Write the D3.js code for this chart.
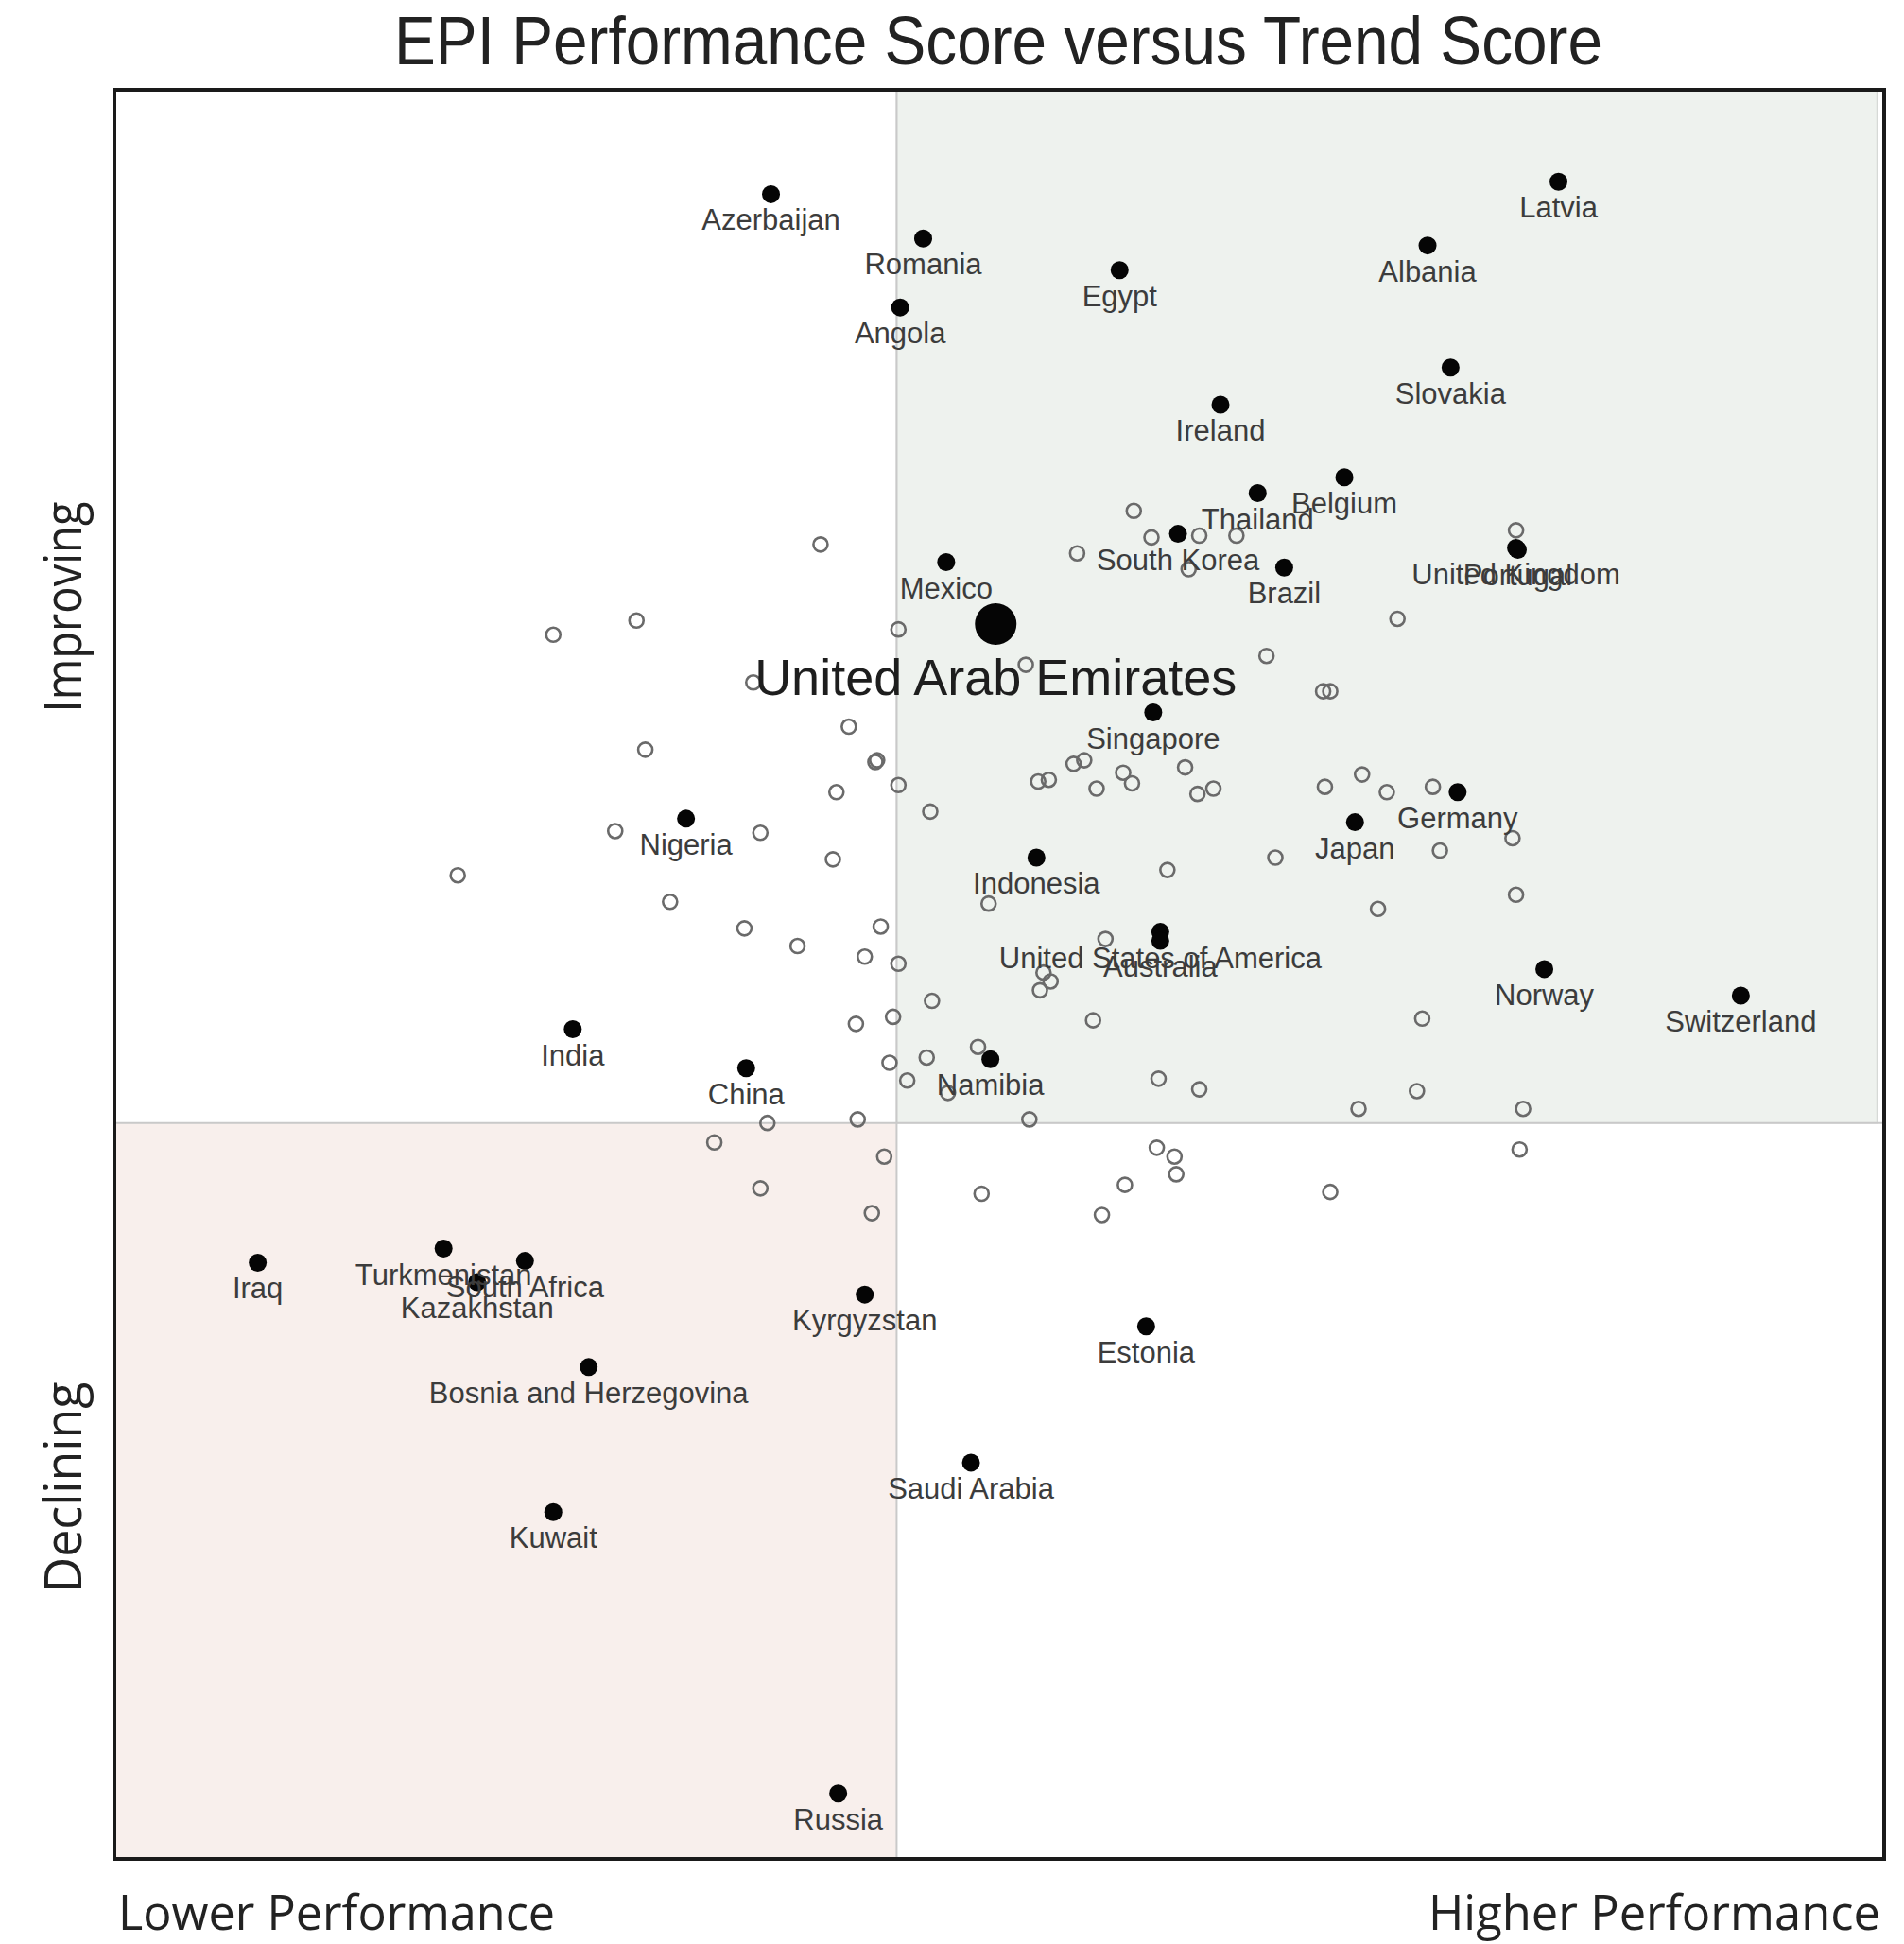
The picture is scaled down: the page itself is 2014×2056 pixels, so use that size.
<!DOCTYPE html>
<html>
<head>
<meta charset="utf-8">
<script src="https://cdn.jsdelivr.net/npm/d3@7"></script>
<style>
  body { margin: 0; background: #fff; }
  text { font-family: "Liberation Sans", Arial, sans-serif; }
</style>
</head>
<body>
<svg id="chart" width="2014" height="2056"></svg>
<script>
// labelled countries (performance score, trend score), both on a 0-100 scale
var countries = ["Azerbaijan", "Romania", "Angola", "Egypt", "Latvia", "Albania", "Slovakia", "Ireland",
  "Belgium", "Thailand", "South Korea", "Brazil", "United Kingdom", "Portugal", "Mexico",
  "United Arab Emirates", "Singapore", "Nigeria", "Germany", "Japan", "Indonesia",
  "United States of America", "Australia", "Norway", "Switzerland", "India", "China", "Namibia",
  "Iraq", "Turkmenistan", "Kazakhstan", "South Africa", "Bosnia and Herzegovina", "Kuwait",
  "Kyrgyzstan", "Russia", "Saudi Arabia", "Estonia"];
var perfScore = [37.1, 45.7, 44.4, 56.8, 81.6, 74.2, 75.5, 62.5,
  69.5, 64.6, 60.1, 66.1, 79.2, 79.3, 47.0,
  49.8, 58.7, 32.3, 75.9, 70.1, 52.1,
  59.1, 59.1, 80.8, 91.9, 25.9, 35.7, 49.5,
  8.1, 18.6, 20.5, 23.2, 26.8, 24.8,
  42.4, 40.9, 48.4, 58.3];
var trendScore = [94.1, 91.6, 87.7, 89.8, 94.8, 91.2, 84.3, 82.2,
  78.1, 77.2, 74.9, 73.0, 74.1, 74.0, 73.3,
  69.8, 64.8, 58.8, 60.3, 58.6, 56.6,
  52.4, 51.9, 50.3, 48.8, 46.9, 44.7, 45.2,
  33.7, 34.5, 32.6, 33.8, 27.8, 19.6,
  31.9, 3.7, 22.4, 30.1];

// unlabelled countries
var otherPerf = [39.9, 44.3, 54.4, 57.6, 58.6, 61.3, 63.4, 60.7, 65.1, 51.5,
  36.1, 68.3, 68.7, 41.5, 43.0, 43.1, 44.3, 40.8, 46.1, 52.2,
  52.8, 54.2, 54.8, 55.5, 57.0, 57.5, 60.5, 61.2, 62.1, 36.5,
  40.6, 31.4, 35.6, 38.6, 43.3, 42.4, 44.3, 59.5, 65.6, 49.4,
  56.0, 52.5, 52.9, 52.3, 46.2, 55.3, 41.9, 44.0, 48.8, 43.8,
  45.9, 44.8, 47.1, 59.0, 61.3, 36.9, 42.0, 51.7, 29.5, 24.8,
  30.0, 28.3, 19.4, 79.2, 72.5, 68.4, 70.5, 71.9, 74.5, 79.0,
  74.9, 79.2, 71.4, 73.9, 73.6, 70.3, 79.6, 33.9, 43.5, 36.5,
  42.8, 49.0, 58.9, 59.9, 60.0, 57.1, 55.8, 68.7, 79.4];
var otherTrend = [74.3, 69.5, 73.8, 76.2, 74.7, 74.8, 74.8, 72.9, 68.0, 67.5,
  66.5, 66.0, 66.0, 64.0, 62.0, 62.1, 60.7, 60.3, 59.2, 60.9,
  61.0, 61.9, 62.1, 60.5, 61.4, 60.8, 61.7, 60.2, 60.5, 58.0,
  56.5, 54.1, 52.6, 51.6, 52.7, 51.0, 50.6, 55.9, 56.6, 54.0,
  52.0, 50.1, 49.6, 49.1, 48.5, 47.4, 47.2, 47.6, 45.9, 45.0,
  45.3, 44.0, 43.3, 44.1, 43.5, 41.6, 41.8, 41.8, 70.0, 69.2,
  62.7, 58.1, 55.6, 75.1, 70.1, 60.6, 61.3, 60.3, 60.6, 57.7,
  57.0, 54.5, 53.7, 47.5, 43.4, 42.4, 42.4, 40.5, 39.7, 37.9,
  36.5, 37.6, 40.2, 39.7, 38.7, 38.1, 36.4, 37.7, 40.1];

var highlight = "United Arab Emirates";
var splitPerf = 44.2, splitTrend = 41.6;

var svg = d3.select("#chart");
var x = d3.scaleLinear().domain([0, 100]).range([121, 1993]);
var y = d3.scaleLinear().domain([0, 100]).range([1966, 95]);

// quadrant shading
svg.append("rect")
  .attr("x", x(splitPerf)).attr("y", y(100))
  .attr("width", x(99.6) - x(splitPerf)).attr("height", y(splitTrend) - y(100))
  .attr("fill", "#eef2ee").attr("stroke", "#d6d9d6").attr("stroke-width", 1.5);
svg.append("rect")
  .attr("x", x(0)).attr("y", y(splitTrend))
  .attr("width", x(splitPerf) - x(0)).attr("height", y(0) - y(splitTrend))
  .attr("fill", "#f8efec");

// dividers
svg.append("line")
  .attr("x1", x(splitPerf)).attr("x2", x(splitPerf)).attr("y1", y(100)).attr("y2", y(0))
  .attr("stroke", "#c9c9c9").attr("stroke-width", 2);
svg.append("line")
  .attr("x1", x(0)).attr("x2", x(100)).attr("y1", y(splitTrend)).attr("y2", y(splitTrend))
  .attr("stroke", "#c9c9c9").attr("stroke-width", 2);

// unlabelled points
svg.append("g").selectAll("circle")
  .data(d3.range(otherPerf.length))
  .join("circle")
  .attr("cx", function(i) { return x(otherPerf[i]); })
  .attr("cy", function(i) { return y(otherTrend[i]); })
  .attr("r", 7.5)
  .attr("fill", "none")
  .attr("stroke", "#6a6a6a")
  .attr("stroke-width", 2.6);

// labelled points
var pts = d3.range(countries.length).map(function(i) {
  return { name: countries[i], px: x(perfScore[i]), py: y(trendScore[i]), big: countries[i] === highlight };
});

svg.append("g").selectAll("circle")
  .data(pts)
  .join("circle")
  .attr("cx", function(d) { return d.px; })
  .attr("cy", function(d) { return d.py; })
  .attr("r", function(d) { return d.big ? 22 : 9.5; })
  .attr("fill", "#050505");

svg.append("g").selectAll("text")
  .data(pts)
  .join("text")
  .attr("x", function(d) { return d.px; })
  .attr("y", function(d) { return d.py + (d.big ? 75 : 38); })
  .attr("text-anchor", "middle")
  .attr("font-size", function(d) { return d.big ? 54 : 31; })
  .attr("fill", function(d) { return d.big ? "#1e1e1e" : "#3c3c3c"; })
  .text(function(d) { return d.name; });

// frame
svg.append("rect")
  .attr("x", x(0)).attr("y", y(100))
  .attr("width", x(100) - x(0)).attr("height", y(0) - y(100))
  .attr("fill", "none").attr("stroke", "#1a1a1a").attr("stroke-width", 4);

// title and corner captions
svg.append("text")
  .attr("x", 1056).attr("y", 68)
  .attr("text-anchor", "middle")
  .attr("font-size", 72)
  .attr("fill", "#222")
  .attr("textLength", 1278).attr("lengthAdjust", "spacingAndGlyphs")
  .text("EPI Performance Score versus Trend Score");

svg.append("text")
  .attr("x", 125).attr("y", 2041)
  .attr("font-size", 52)
  .style("font-family", "'Open Sans', sans-serif")
  .attr("fill", "#222")
  .attr("textLength", 462).attr("lengthAdjust", "spacingAndGlyphs")
  .text("Lower Performance");

svg.append("text")
  .attr("x", 1989).attr("y", 2041)
  .attr("text-anchor", "end")
  .attr("font-size", 52)
  .style("font-family", "'Open Sans', sans-serif")
  .attr("fill", "#222")
  .attr("textLength", 478).attr("lengthAdjust", "spacingAndGlyphs")
  .text("Higher Performance");

[["Improving", 642], ["Declining", 1573]].forEach(function(a) {
  svg.append("text")
    .attr("transform", "translate(86," + a[1] + ") rotate(-90)")
    .attr("text-anchor", "middle")
    .attr("font-size", 54)
    .style("font-family", "'Open Sans', sans-serif")
    .attr("fill", "#222")
    .attr("textLength", 223).attr("lengthAdjust", "spacingAndGlyphs")
    .text(a[0]);
});
</script>
</body>
</html>
